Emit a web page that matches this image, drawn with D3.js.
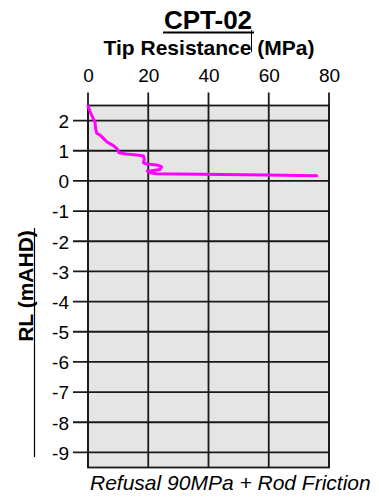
<!DOCTYPE html>
<html>
<head>
<meta charset="utf-8">
<script src="https://cdn.jsdelivr.net/npm/d3@7"></script>
<style>
  body { margin: 0; background: #fff; }
  text { font-family: "Liberation Sans", Arial, sans-serif; fill: #000; }
</style>
</head>
<body>
<div id="container"></div>
<script>
// CPT-02 tip resistance profile
var xTicks = [0, 20, 40, 60, 80];
var yTicks = [2, 1, 0, -1, -2, -3, -4, -5, -6, -7, -8, -9];
var qc = [0, 0.7, 1.5, 2.3, 2.5, 2.9, 4, 5.1, 6.2, 8.4, 9.7, 10.3, 12.8, 16.2, 18.4, 18.7, 18.4, 19.5, 22.8, 24.4, 23.9, 21.1, 19.7, 20.6, 22.8, 37.2, 59.3, 75.9];
var rl = [2.48, 2.30, 2.11, 1.97, 1.75, 1.58, 1.52, 1.41, 1.30, 1.17, 1.06, 0.93, 0.89, 0.86, 0.83, 0.72, 0.60, 0.56, 0.53, 0.47, 0.38, 0.34, 0.33, 0.27, 0.24, 0.22, 0.20, 0.17];

width = 379;
height = 498;
var pLeft = 88, pRight = 329, pTop = 105.5, pBottom = 467.5;

var svg = d3.select("#container").append('svg')
    .attr('width', width)
    .attr('height', height)

var x = d3.scaleLinear().domain([0, 80]).range([pLeft, pRight]);
var y = d3.scaleLinear().domain([2.5, -9.5]).range([pTop, pBottom]);

// plot background
svg.append('rect')
    .attr('x', pLeft).attr('y', pTop)
    .attr('width', pRight - pLeft).attr('height', pBottom - pTop)
    .attr('fill', '#e5e5e5')

// grid lines (stick out past the frame like ticks)
svg.append('g').selectAll('line')
    .data(xTicks)
    .enter().append('line')
      .attr('x1', d => x(d)).attr('x2', d => x(d))
      .attr('y1', pTop - 13).attr('y2', pBottom)
      .attr('stroke', '#1a1a1a').attr('stroke-width', 1.8)

svg.append('g').selectAll('line')
    .data(yTicks)
    .enter().append('line')
      .attr('x1', pLeft - 15).attr('x2', pRight)
      .attr('y1', d => y(d)).attr('y2', d => y(d))
      .attr('stroke', '#1a1a1a').attr('stroke-width', 1.8)

svg.append('rect')
    .attr('x', pLeft).attr('y', pTop)
    .attr('width', pRight - pLeft).attr('height', pBottom - pTop)
    .attr('fill', 'none')
    .attr('stroke', '#1a1a1a').attr('stroke-width', 1.8)

// tick labels
var xAxis = d3.axisTop(x).tickValues(xTicks).tickSize(0).tickPadding(0);
var gx = svg.append('g').attr('transform', 'translate(0,' + 82 + ')').call(xAxis);
gx.select('.domain').remove();
gx.selectAll('text')
    .attr('font-size', 19).attr('font-family', '"Liberation Sans", Arial, sans-serif')
    .attr('fill', '#000').attr('dy', 0)

var yAxis = d3.axisLeft(y).tickValues(yTicks).tickSize(0).tickPadding(0);
var gy = svg.append('g').attr('transform', 'translate(' + 69 + ',0)').call(yAxis);
gy.select('.domain').remove();
gy.selectAll('text')
    .attr('font-size', 19).attr('font-family', '"Liberation Sans", Arial, sans-serif')
    .attr('fill', '#000').attr('dy', '0.36em')
    .text(d => d < 0 ? '-' + Math.abs(d) : d)

// profile
var line = d3.line()
    .x((d, i) => x(qc[i]))
    .y((d, i) => y(rl[i]))
    .curve(d3.curveLinear);

svg.append('path')
    .datum(qc)
    .attr('d', line)
    .attr('fill', 'none')
    .attr('stroke', '#ff00ff')
    .attr('stroke-width', 3)
    .attr('stroke-linejoin', 'round')
    .attr('stroke-linecap', 'round')

// titles
svg.append('text')
    .attr('x', 208).attr('y', 29)
    .attr('text-anchor', 'middle')
    .attr('font-size', 26).attr('font-weight', 'bold')
    .text('CPT-02')
svg.append('line')
    .attr('x1', 163).attr('x2', 254).attr('y1', 32.5).attr('y2', 32.5)
    .attr('stroke', '#000').attr('stroke-width', 2.2)
svg.append('line')
    .attr('x1', 251.5).attr('x2', 251.5).attr('y1', 30).attr('y2', 52)
    .attr('stroke', '#000').attr('stroke-width', 1)

svg.append('text')
    .attr('x', 209).attr('y', 55)
    .attr('text-anchor', 'middle')
    .attr('font-size', 21).attr('font-weight', 'bold')
    .text('Tip Resistance (MPa)')

svg.append('text')
    .attr('transform', 'translate(33,286) rotate(-90)')
    .attr('text-anchor', 'middle')
    .attr('font-size', 21).attr('font-weight', 'bold')
    .text('RL (mAHD)')
svg.append('line')
    .attr('x1', 34.5).attr('x2', 34.5).attr('y1', 228).attr('y2', 457)
    .attr('stroke', '#000').attr('stroke-width', 1.2)

svg.append('text')
    .attr('x', 90).attr('y', 490)
    .attr('font-size', 21).attr('font-style', 'italic')
    .text('Refusal 90MPa + Rod Friction')
</script>
</body>
</html>
